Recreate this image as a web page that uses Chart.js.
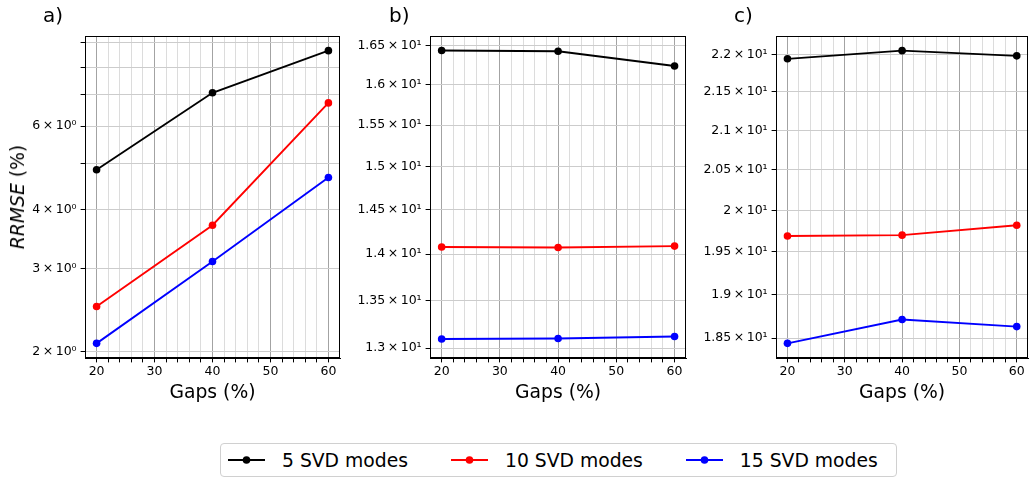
<!DOCTYPE html>
<html>
<head>
<meta charset="utf-8">
<script src="https://cdn.jsdelivr.net/npm/chart.js@4.4.1/dist/chart.umd.min.js"></script>
<style>
  body { margin: 0; background: #fff; font-family: 'DejaVu Sans', sans-serif; color: #000; }
  #wrap { position: relative; width: 1032px; height: 479px; overflow: hidden; }
  #wrap canvas { position: absolute; top: 0; }
  .tag { position: absolute; top: 5px; font-size: 20px; line-height: 20px; }
  #ytitle { position: absolute; left: 18px; top: 197px; font-size: 18.75px; line-height: 20px;
            white-space: nowrap; transform: translate(-50%, -50%) rotate(-90deg); }
  #legend { position: absolute; left: 220px; top: 443px; width: 677px; height: 34px; box-sizing: border-box;
            border: 1px solid #d0d0d0; border-radius: 4px; display: flex; align-items: center;
            padding-left: 7px; font-size: 18.75px; white-space: nowrap; }
  .item { display: flex; align-items: center; margin-right: 43px; flex-shrink: 0; }
  .item svg { margin-right: 17px; flex-shrink: 0; }
</style>
</head>
<body>
<div id="wrap">
  <canvas id="chart-a" width="345" height="410" style="left:0px;width:345px;height:410px"></canvas>
  <canvas id="chart-b" width="345" height="410" style="left:345px;width:345px;height:410px"></canvas>
  <canvas id="chart-c" width="342" height="410" style="left:690px;width:342px;height:410px"></canvas>
  <div class="tag" style="left:43px">a)</div>
  <div class="tag" style="left:389px">b)</div>
  <div class="tag" style="left:734px">c)</div>
  <div id="ytitle"><i>RRMSE</i> (%)</div>
  <div id="legend"></div>
</div>
<script>
const gaps = [20, 40, 60];
const seriesNames = ['5 SVD modes', '10 SVD modes', '15 SVD modes'];
const seriesColors = ['#000000', '#ff0000', '#0000ff'];

// a) RRMSE (%) per number of modes
const a5 = [4.85, 7.06, 8.67];
const a10 = [2.49, 3.70, 6.72];
const a15 = [2.08, 3.10, 4.67];

// b)
const b5 = [16.44, 16.43, 16.24];
const b10 = [14.08, 14.075, 14.09];
const b15 = [13.095, 13.10, 13.12];

// c)
const c5 = [21.94, 22.05, 21.98];
const c10 = [19.69, 19.70, 19.82];
const c15 = [18.44, 18.71, 18.63];

// x axis: grid every 2, labels every 10
const xGridTicks = [20, 22, 24, 26, 28, 30, 32, 34, 36, 38, 40, 42, 44, 46, 48, 50, 52, 54, 56, 58, 60];
const xLabeled = [20, 30, 40, 50, 60];

// y axes
const aGridTicks = [2, 3, 4, 5, 6, 7, 8, 9];
const aLabeled = [2, 3, 4, 6];
const aLabelText = ['2\u2009×\u200910⁰', '3\u2009×\u200910⁰', '4\u2009×\u200910⁰', '6\u2009×\u200910⁰'];
const bTicks = [13, 13.5, 14, 14.5, 15, 15.5, 16, 16.5];
const bLabelText = ['1.3\u2009×\u200910¹', '1.35\u2009×\u200910¹', '1.4\u2009×\u200910¹', '1.45\u2009×\u200910¹',
                    '1.5\u2009×\u200910¹', '1.55\u2009×\u200910¹', '1.6\u2009×\u200910¹', '1.65\u2009×\u200910¹'];
const cTicks = [18.5, 19, 19.5, 20, 20.5, 21, 21.5, 22];
const cLabelText = ['1.85\u2009×\u200910¹', '1.9\u2009×\u200910¹', '1.95\u2009×\u200910¹', '2\u2009×\u200910¹',
                    '2.05\u2009×\u200910¹', '2.1\u2009×\u200910¹', '2.15\u2009×\u200910¹', '2.2\u2009×\u200910¹'];

const FONT = 'DejaVu Sans';
Chart.defaults.font.family = FONT;
Chart.defaults.color = '#000';

// matplotlib-style 5% margin in log space
function logRange(vals) {
  const lo = Math.log10(Math.min(...vals));
  const hi = Math.log10(Math.max(...vals));
  const m = (hi - lo) * 0.05;
  return [Math.pow(10, lo - m), Math.pow(10, hi + m)];
}

const framePlugin = {
  id: 'frame',
  afterDatasetsDraw(chart) {
    const { ctx, chartArea: a } = chart;
    ctx.save();
    ctx.strokeStyle = '#000';
    ctx.lineWidth = 1;
    ctx.strokeRect(Math.round(a.left) + 0.5, Math.round(a.top) + 0.5,
      Math.round(a.right - a.left) - 1, Math.round(a.bottom - a.top) - 1);
    ctx.restore();
  }
};

function makePanel(id, cfg) {
  const canvas = document.getElementById(id);
  const datasets = cfg.series.map((vals, i) => ({
    label: seriesNames[i],
    data: gaps.map((g, j) => ({ x: g, y: vals[j] })),
    borderColor: seriesColors[i],
    backgroundColor: seriesColors[i],
    borderWidth: 1.9,
    pointRadius: 3.8, pointHoverRadius: 3.8, pointBorderWidth: 0,
    tension: 0
  }));
  const [lo, hi] = logRange(cfg.series.flat());

  return new Chart(canvas, {
    type: 'line',
    data: { datasets },
    options: {
      responsive: false, animation: false, events: [],
      layout: { padding: { top: 36, right: cfg.padRight, left: 0, bottom: 0 } },
      plugins: { legend: { display: false }, tooltip: { enabled: false } },
      scales: {
        x: {
          type: 'linear', min: 18, max: 62,
          afterBuildTicks: s => { s.ticks = xGridTicks.map(v => ({ value: v })); },
          afterFit: s => { s.height = 52; },
          ticks: {
            autoSkip: false, maxRotation: 0, padding: 2, color: '#000',
            font: { size: 12.5 },
            callback: v => xLabeled.includes(v) ? String(v) : ''
          },
          grid: {
            color: c => (c.tick && xLabeled.includes(c.tick.value)) ? '#a3a3a3' : '#dcdcdc',
            tickColor: '#000', tickLength: 4.4, lineWidth: 1
          },
          border: { color: '#000', width: 1 },
          title: { display: true, text: 'Gaps (%)', color: '#000', font: { size: 18.75 }, padding: { top: 0, bottom: 6 } }
        },
        y: {
          type: 'logarithmic', min: lo, max: hi,
          afterBuildTicks: s => { s.ticks = cfg.gridTicks.map(v => ({ value: v })); },
          afterFit: s => { s.width = cfg.axisWidth; },
          ticks: {
            autoSkip: false, padding: 4, color: '#000',
            font: { size: 12.5 },
            callback: v => {
              const k = cfg.labeled.indexOf(v);
              return k < 0 ? '' : cfg.labelText[k];
            }
          },
          grid: { color: '#cccccc', tickColor: '#000', tickLength: 4.4, lineWidth: 1 },
          border: { color: '#000', width: 1 }
        }
      }
    },
    plugins: [framePlugin]
  });
}

makePanel('chart-a', { series: [a5, a10, a15], gridTicks: aGridTicks, labeled: aLabeled, labelText: aLabelText, axisWidth: 85, padRight: 5 });
makePanel('chart-b', { series: [b5, b10, b15], gridTicks: bTicks, labeled: bTicks, labelText: bLabelText, axisWidth: 85, padRight: 3 });
makePanel('chart-c', { series: [c5, c10, c15], gridTicks: cTicks, labeled: cTicks, labelText: cLabelText, axisWidth: 86, padRight: 1 });

// shared legend under the three panels
const legend = document.getElementById('legend');
seriesNames.forEach((name, i) => {
  const item = document.createElement('div');
  item.className = 'item';
  item.innerHTML = `<svg width="37" height="10"><line x1="0" y1="5" x2="37" y2="5" stroke="${seriesColors[i]}" stroke-width="1.9"/>` +
    `<circle cx="18.5" cy="5" r="3.8" fill="${seriesColors[i]}"/></svg><span>${name}</span>`;
  legend.appendChild(item);
});
</script>
</body>
</html>
